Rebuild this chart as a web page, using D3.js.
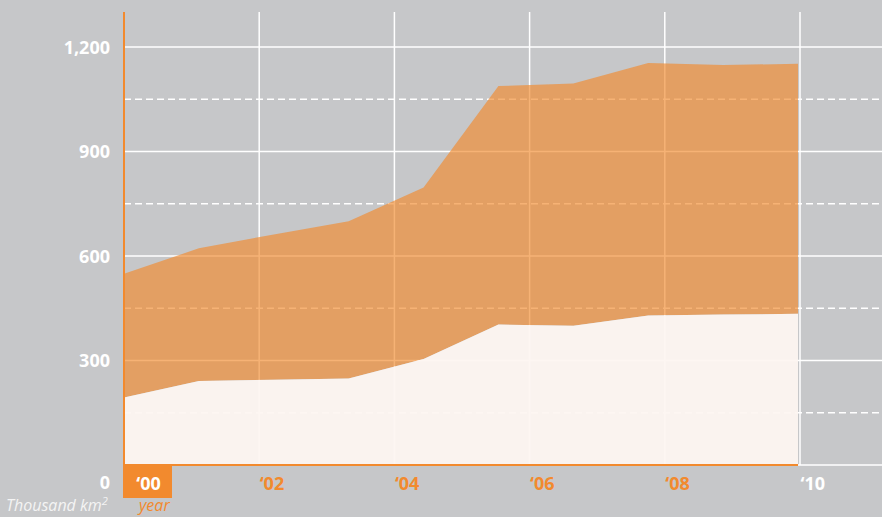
<!DOCTYPE html>
<html>
<head>
<meta charset="utf-8">
<script src="https://cdn.jsdelivr.net/npm/d3@7"></script>
<style>
  body { margin: 0; background: #c6c7c9; }
  svg { display: block; font-family: "Open Sans", sans-serif; }
</style>
</head>
<body>
<div class="canvas"></div>
<script>
// data (thousand km2)
const years = [2000, 2001, 2002, 2003, 2004, 2005, 2006, 2007, 2008, 2009];
const totalArea = [549, 622, 662, 700, 797, 1088, 1095, 1154, 1148, 1152];
const lowerArea = [194, 241, 245, 248, 304, 403, 400, 429, 432, 434];
const yTicks = [0, 300, 600, 900, 1200];
const yMinorTicks = [150, 450, 750, 1050];
const xTicks = [2000, 2002, 2004, 2006, 2008, 2010];

const orange = '#f28a2e';
const width = 882, height = 517;

const svg = d3.select('.canvas')
    .append('svg')
    .attr('width', width)
    .attr('height', height);

const plotLeft = 124, plotRight = 882, plotTop = 12, plotBase = 465;

// scales
const y = d3.scaleLinear().domain([0, 1200]).range([plotBase, 47]);
const xAxisScale = d3.scaleLinear().domain([2000, 2010]).range([plotLeft, 800]);
// the data points are spread evenly over the whole span
const x = d3.scaleLinear().domain([2000, 2009]).range([plotLeft, 798]);

// grid
const grid = svg.append('g');
grid.selectAll('.hmajor')
    .data(yTicks)
    .enter().append('line')
    .attr('x1', plotLeft).attr('x2', plotRight)
    .attr('y1', d => y(d)).attr('y2', d => y(d))
    .attr('stroke', '#fff').attr('stroke-width', 1.5);
grid.selectAll('.hminor')
    .data(yMinorTicks)
    .enter().append('line')
    .attr('x1', plotLeft).attr('x2', plotRight)
    .attr('y1', d => y(d)).attr('y2', d => y(d))
    .attr('stroke', '#fff').attr('stroke-width', 1.5)
    .attr('stroke-dasharray', '7,4');
grid.selectAll('.vline')
    .data(xTicks.slice(1))
    .enter().append('line')
    .attr('x1', d => xAxisScale(d)).attr('x2', d => xAxisScale(d))
    .attr('y1', plotTop).attr('y2', plotBase)
    .attr('stroke', '#fff').attr('stroke-width', 1.5);

const rows = years.map((yr, i) => ({ year: yr, total: totalArea[i], lower: lowerArea[i] }));

// upper band
const upper = d3.area()
    .x(d => x(d.year))
    .y0(d => y(d.lower))
    .y1(d => y(d.total));
svg.append('path')
    .datum(rows)
    .attr('d', upper)
    .attr('fill', orange)
    .attr('fill-opacity', 0.66);

// lower band
const lower = d3.area()
    .x(d => x(d.year))
    .y0(y(0))
    .y1(d => y(d.lower));
svg.append('path')
    .datum(rows)
    .attr('d', lower)
    .attr('fill', '#fdf6f1')
    .attr('fill-opacity', 0.95);

// orange axis lines
svg.append('line')
    .attr('x1', plotLeft).attr('x2', x(2009))
    .attr('y1', plotBase).attr('y2', plotBase)
    .attr('stroke', orange).attr('stroke-width', 2);
svg.append('line')
    .attr('x1', plotLeft).attr('x2', plotLeft)
    .attr('y1', plotTop).attr('y2', plotBase + 1)
    .attr('stroke', orange).attr('stroke-width', 2);

// y axis labels
const yAxis = d3.axisLeft(y)
    .tickValues(yTicks)
    .tickSize(0)
    .tickFormat(d3.format(','));
const yAxisGroup = svg.append('g')
    .attr('transform', `translate(${plotLeft}, 0)`)
    .call(yAxis);
yAxisGroup.select('.domain').remove();
yAxisGroup.selectAll('text')
    .attr('x', -14)
    .attr('dy', '0.36em')
    .attr('fill', '#fff')
    .style('font-size', '18px')
    .style('font-weight', 'bold')
    .style('font-family', '"Open Sans", sans-serif');
yAxisGroup.selectAll('.tick')
    .filter(d => d === 0)
    .select('text')
    .attr('dy', '1.3em');

// '00 box
svg.append('rect')
    .attr('x', plotLeft - 1).attr('y', plotBase)
    .attr('width', 49).attr('height', 33)
    .attr('fill', orange);

// x axis labels
const xAxis = d3.axisBottom(xAxisScale)
    .tickValues(xTicks)
    .tickSize(0)
    .tickFormat(d => '\u2018' + String(d).slice(2));
const xAxisGroup = svg.append('g')
    .attr('transform', `translate(0, ${plotBase})`)
    .call(xAxis);
xAxisGroup.select('.domain').remove();
xAxisGroup.selectAll('text')
    .attr('y', 25)
    .attr('dy', 0)
    .attr('text-anchor', 'start')
    .attr('fill', d => (d === 2000 || d === 2010) ? '#fff' : orange)
    .style('font-size', '18px')
    .style('font-weight', 'bold')
    .style('font-family', '"Open Sans", sans-serif');
xAxisGroup.selectAll('.tick')
    .filter(d => d === 2000)
    .select('text')
    .attr('x', 24)
    .attr('text-anchor', 'middle');

// unit labels
svg.append('text')
    .attr('x', 6).attr('y', 511)
    .attr('fill', '#f4f4f4')
    .style('font-size', '16px')
    .style('font-style', 'italic')
    .text('Thousand km')
    .append('tspan')
    .attr('dy', -6)
    .style('font-size', '11px')
    .text('2');
svg.append('text')
    .attr('x', 139).attr('y', 511)
    .attr('fill', orange)
    .style('font-size', '16px')
    .style('font-style', 'italic')
    .text('year');
</script>
</body>
</html>
